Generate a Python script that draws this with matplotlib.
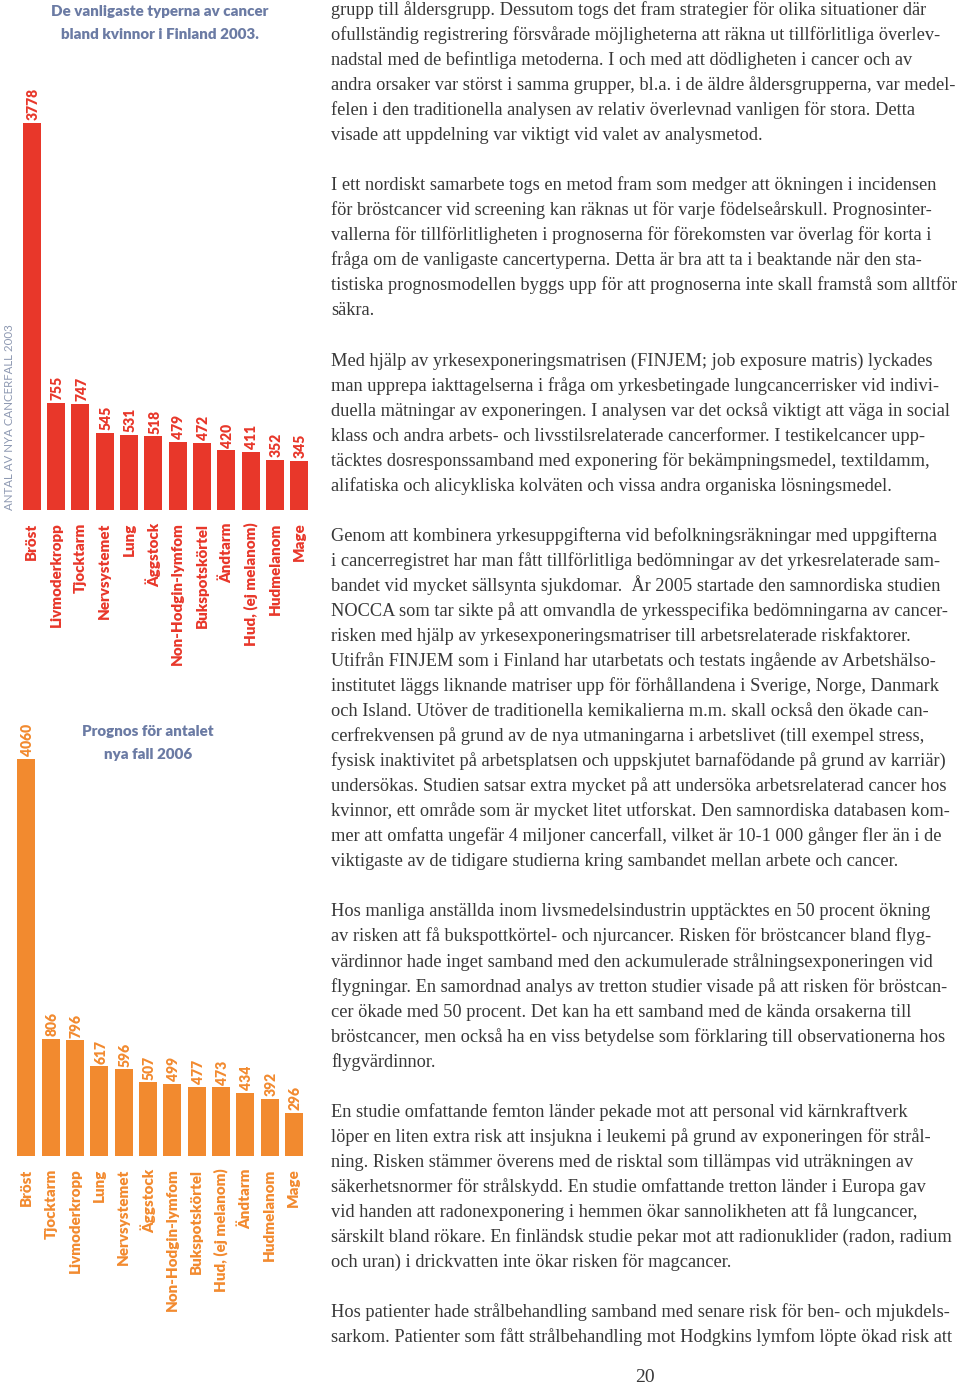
import matplotlib

matplotlib.use("Agg")
import matplotlib.pyplot as plt

W, H = 960, 1385

# --- chart data -------------------------------------------------------------
types_2003 = ["Bröst", "Livmoderkropp", "Tjocktarm", "Nervsystemet", "Lung", "Äggstock",
              "Non-Hodgin-lymfom", "Bukspotskörtel", "Ändtarm", "Hud, (ej melanom)",
              "Hudmelanom", "Mage"]
cases_2003 = [3778, 755, 747, 545, 531, 518, 479, 472, 420, 411, 352, 345]

types_2006 = ["Bröst", "Tjocktarm", "Livmoderkropp", "Lung", "Nervsystemet", "Äggstock",
              "Non-Hodgin-lymfom", "Bukspotskörtel", "Hud, (ej melanom)", "Ändtarm",
              "Hudmelanom", "Mage"]
cases_2006 = [4060, 806, 796, 617, 596, 507, 499, 477, 473, 434, 392, 296]

title_2003 = "De vanligaste typerna av cancer\nbland kvinnor i Finland 2003."
title_2006 = "Prognos för antalet\nnya fall 2006"
side_label = "ANTAL AV NYA CANCERFALL 2003"

# --- body text (line breaks as on the page) --------------------------------
paragraphs = [
    ["grupp till åldersgrupp. Dessutom togs det fram strategier för olika situationer där",
     "ofullständig registrering försvårade möjligheterna att räkna ut tillförlitliga överlev-",
     "nadstal med de befintliga metoderna. I och med att dödligheten i cancer och av",
     "andra orsaker var störst i samma grupper, bl.a. i de äldre åldersgrupperna, var medel-",
     "felen i den traditionella analysen av relativ överlevnad vanligen för stora. Detta",
     "visade att uppdelning var viktigt vid valet av analysmetod."],
    ["I ett nordiskt samarbete togs en metod fram som medger att ökningen i incidensen",
     "för bröstcancer vid screening kan räknas ut för varje födelseårskull. Prognosinter-",
     "vallerna för tillförlitligheten i prognoserna för förekomsten var överlag för korta i",
     "fråga om de vanligaste cancertyperna. Detta är bra att ta i beaktande när den sta-",
     "tistiska prognosmodellen byggs upp för att prognoserna inte skall framstå som alltför",
     "säkra."],
    ["Med hjälp av yrkesexponeringsmatrisen (FINJEM; job exposure matris) lyckades",
     "man upprepa iakttagelserna i fråga om yrkesbetingade lungcancerrisker vid indivi-",
     "duella mätningar av exponeringen. I analysen var det också viktigt att väga in social",
     "klass och andra arbets- och livsstilsrelaterade cancerformer. I testikelcancer upp-",
     "täcktes dosresponssamband med exponering för bekämpningsmedel, textildamm,",
     "alifatiska och alicykliska kolväten och vissa andra organiska lösningsmedel."],
    ["Genom att kombinera yrkesuppgifterna vid befolkningsräkningar med uppgifterna",
     "i cancerregistret har man fått tillförlitliga bedömningar av det yrkesrelaterade sam-",
     "bandet vid mycket sällsynta sjukdomar.  År 2005 startade den samnordiska studien",
     "NOCCA som tar sikte på att omvandla de yrkesspecifika bedömningarna av cancer-",
     "risken med hjälp av yrkesexponeringsmatriser till arbetsrelaterade riskfaktorer.",
     "Utifrån FINJEM som i Finland har utarbetats och testats ingående av Arbetshälso-",
     "institutet läggs liknande matriser upp för förhållandena i Sverige, Norge, Danmark",
     "och Island. Utöver de traditionella kemikalierna m.m. skall också den ökade can-",
     "cerfrekvensen på grund av de nya utmaningarna i arbetslivet (till exempel stress,",
     "fysisk inaktivitet på arbetsplatsen och uppskjutet barnafödande på grund av karriär)",
     "undersökas. Studien satsar extra mycket på att undersöka arbetsrelaterad cancer hos",
     "kvinnor, ett område som är mycket litet utforskat. Den samnordiska databasen kom-",
     "mer att omfatta ungefär 4 miljoner cancerfall, vilket är 10-1 000 gånger fler än i de",
     "viktigaste av de tidigare studierna kring sambandet mellan arbete och cancer."],
    ["Hos manliga anställda inom livsmedelsindustrin upptäcktes en 50 procent ökning",
     "av risken att få bukspottkörtel- och njurcancer. Risken för bröstcancer bland flyg-",
     "värdinnor hade inget samband med den ackumulerade strålningsexponeringen vid",
     "flygningar. En samordnad analys av tretton studier visade på att risken för bröstcan-",
     "cer ökade med 50 procent. Det kan ha ett samband med de kända orsakerna till",
     "bröstcancer, men också ha en viss betydelse som förklaring till observationerna hos",
     "flygvärdinnor."],
    ["En studie omfattande femton länder pekade mot att personal vid kärnkraftverk",
     "löper en liten extra risk att insjukna i leukemi på grund av exponeringen för strål-",
     "ning. Risken stämmer överens med de risktal som tillämpas vid uträkningen av",
     "säkerhetsnormer för strålskydd. En studie omfattande tretton länder i Europa gav",
     "vid handen att radonexponering i hemmen ökar sannolikheten att få lungcancer,",
     "särskilt bland rökare. En finländsk studie pekar mot att radionuklider (radon, radium",
     "och uran) i drickvatten inte ökar risken för magcancer."],
    ["Hos patienter hade strålbehandling samband med senare risk för ben- och mjukdels-",
     "sarkom. Patienter som fått strålbehandling mot Hodgkins lymfom löpte ökad risk att"],
]
page_number = "20"

red = "#e8372a"
orange = "#f28a2f"
slate = "#6b7ba4"
side_grey = "#8e99b2"
ink = "#383838"
sans = ["Lato", "DejaVu Sans"]
serif = ["Liberation Serif", "DejaVu Serif"]


def fx(px):
    return px / W


def fy(py):
    return 1 - py / H


fig = plt.figure(figsize=(W / 100, H / 100), dpi=100)
fig.patch.set_facecolor("white")


def bar_panel(left, right, top, base, names, counts, color, ymax):
    ax = fig.add_axes([fx(left), fy(base), fx(right) - fx(left), (base - top) / H])
    ax.set_axis_off()
    x = range(len(counts))
    # the tallest bar runs past the panel top and is cut there, as on the page
    ax.bar(x, counts, width=0.74, color=color, linewidth=0)
    ax.set_xlim(-0.5, len(counts) - 0.5)
    ax.set_ylim(0, ymax)
    for i, (name, v) in enumerate(zip(names, counts)):
        ax.annotate(str(v), xy=(i, min(v, ymax)), xytext=(1, 2), textcoords="offset points",
                    rotation=90, ha="center", va="bottom", fontsize=10,
                    fontweight="heavy", color=color, family=sans,
                    annotation_clip=False)
        ax.annotate(name, xy=(i, 0), xytext=(0, -9), textcoords="offset points",
                    rotation=90, ha="center", va="top", fontsize=10.9,
                    fontweight="heavy", color=color, family=sans,
                    annotation_clip=False)
    return ax


# 2003 chart (red) and 2006 prognosis chart (orange)
bar_panel(19.4, 311.4, 123, 510, types_2003, cases_2003, red, 2725)
bar_panel(14.3, 306.0, 759, 1156, types_2006, cases_2006, orange, 2735)

fig.text(fx(160), fy(23), title_2003, ha="center", va="center", fontsize=10.9,
         fontweight="heavy", color=slate, family=sans, linespacing=1.9)
fig.text(fx(148), fy(743), title_2006, ha="center", va="center", fontsize=10.9,
         fontweight="heavy", color=slate, family=sans, linespacing=1.85)
fig.text(fx(10), fy(510), side_label, rotation=90, ha="center", va="bottom",
         fontsize=8.3, fontweight="normal", color=side_grey, family=sans)

# right-hand column of running text
pitch = 25.04
row = 0
for para in paragraphs:
    for line in para:
        fig.text(fx(331), fy(15 + pitch * row), line, ha="left", va="baseline",
                 fontsize=13.25, color=ink, family=serif)
        row += 1
    row += 1

fig.text(fx(645), fy(1382), page_number, ha="center", va="baseline",
         fontsize=14, color=ink, family=serif)

fig.savefig("out.png", dpi=100, facecolor="white")
